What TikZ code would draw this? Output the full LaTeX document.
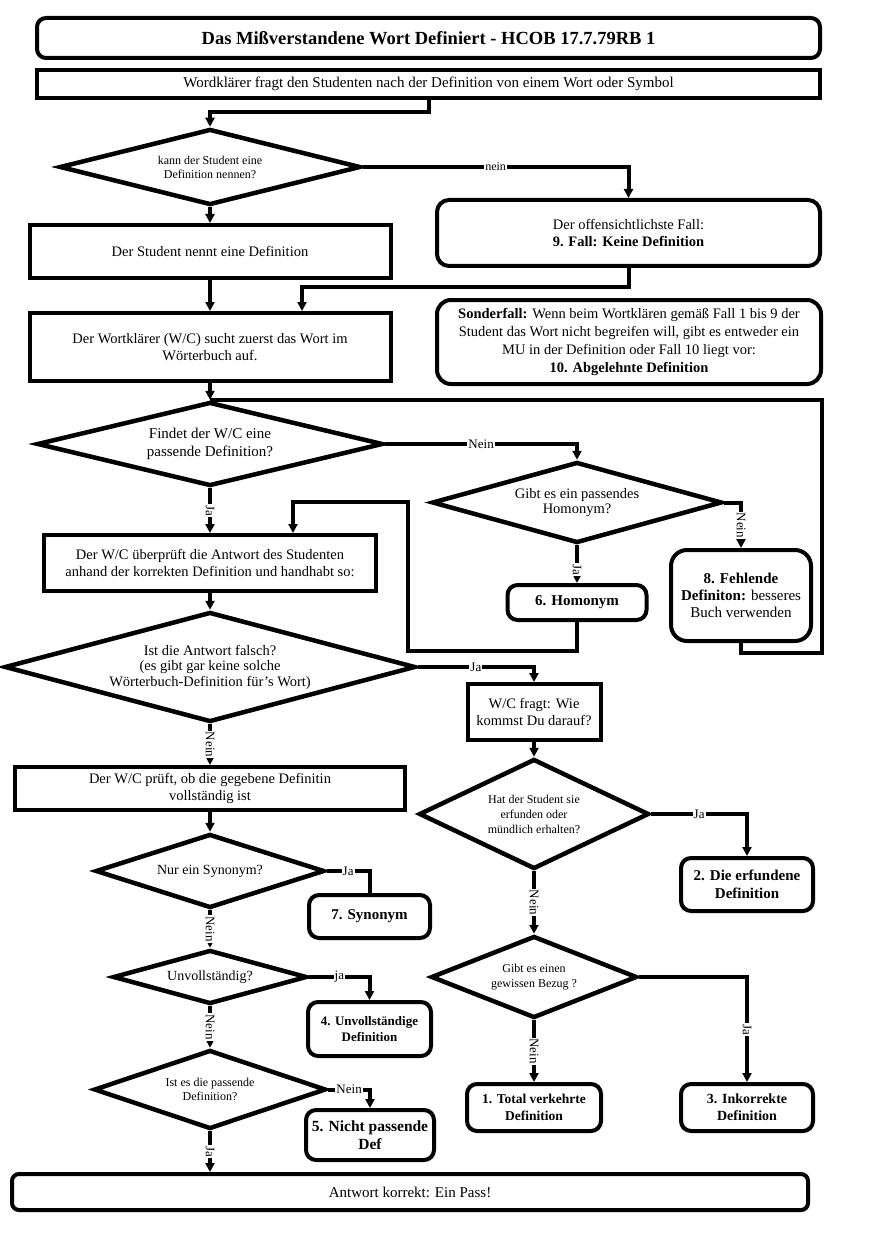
\documentclass[tikz,border=0pt]{standalone}
\usepackage{fontspec}
\setmainfont{Liberation Serif}
\usetikzlibrary{arrows.meta,shapes.geometric}

\begin{document}
\begin{tikzpicture}[x=1pt,y=-1pt,
	every node/.style={align=center,font=\fontsize{14.5}{17}\selectfont},
	procbox/.style={draw,line width=4pt,rectangle,inner sep=2pt},
	casebox/.style={procbox,rounded corners=10pt},
	decision/.style={draw,line width=4.5pt,diamond,inner sep=0pt},
	smalltext/.style={font=\fontsize{12}{14}\selectfont},
	boldtext/.style={font=\fontsize{15}{17.5}\selectfont\bfseries},
	conn/.style={line width=4pt},
	flow/.style={conn,-{Triangle[length=9pt,width=9pt]}},
	lbl/.style={fill=white,inner sep=1pt,font=\fontsize{13}{15}\selectfont},
	vlbl/.style={lbl,rotate=-90}]
	\useasboundingbox (0,0) rectangle (887,1246);

	% Kopf
	\node[procbox,rounded corners=9pt,minimum width=783pt,minimum height=40pt,font=\fontsize{18.5}{20}\selectfont\bfseries] (titel) at (428.5,38) {Das Mißverstandene Wort Definiert - HCOB 17.7.79RB 1};
	\node[procbox,minimum width=783pt,minimum height=28pt,font=\fontsize{15}{17}\selectfont] (frage) at (428.5,84) {Wordklärer fragt den Studenten nach der Definition von einem Wort oder Symbol};

	% linke Spalte
	\node[decision,smalltext,minimum width=301pt,minimum height=76pt,aspect=3.8] (kann) at (210,167) {kann der Student eine\\Definition nennen?};
	\node[procbox,minimum width=361pt,minimum height=53pt] (student) at (210,251.5) {Der Student nennt eine Definition};
	\node[procbox,minimum width=361pt,minimum height=68pt] (wortk) at (210,347) {Der Wortklärer (W/C) sucht zuerst das Wort im\\Wörterbuch auf.};
	\node[decision,minimum width=346pt,minimum height=84pt,aspect=4,font=\fontsize{15}{18}\selectfont] (findet) at (210,444) {Findet der W/C eine\\passende Definition?};
	\node[procbox,minimum width=332pt,minimum height=56pt] (pruefung) at (210,563) {Der W/C überprüft die Antwort des Studenten\\anhand der korrekten Definition und handhabt so:};
	\node[decision,minimum width=411pt,minimum height=110pt,aspect=3.6,font=\fontsize{14.5}{15.5}\selectfont] (falsch) at (210,667) {Ist die Antwort falsch?\\(es gibt gar keine solche\\Wörterbuch-Definition für's Wort)};
	\node[procbox,minimum width=390pt,minimum height=43pt] (vollst) at (210,788.5) {Der W/C prüft, ob die gegebene Definitin\\vollständig ist};
	\node[decision,minimum width=229pt,minimum height=74pt,aspect=3,font=\fontsize{14}{16}\selectfont] (nursyn) at (210,871) {Nur ein Synonym?};
	\node[decision,minimum width=194pt,minimum height=54pt,aspect=3.4,font=\fontsize{14}{16}\selectfont] (unvoll) at (210,977) {Unvollständig?};
	\node[decision,smalltext,minimum width=232pt,minimum height=79pt,aspect=2.8] (passend) at (210,1089.5) {Ist es die passende\\Definition?};
	\node[casebox,rounded corners=7pt,minimum width=796pt,minimum height=36pt,font=\fontsize{15}{17}\selectfont] (pass) at (410,1192) {Antwort korrekt: Ein Pass!};

	% rechte Spalte
	\node[casebox,rounded corners=12pt,minimum width=383pt,minimum height=66pt] (fall9) at (628.5,233) {Der offensichtlichste Fall:\\\textbf{9. Fall: Keine Definition}};
	\node[casebox,rounded corners=14pt,minimum width=384pt,minimum height=84pt,font=\fontsize{14.5}{18}\selectfont] (sonder) at (629,342) {\textbf{Sonderfall:} Wenn beim Wortklären gemäß Fall 1 bis 9 der\\Student das Wort nicht begreifen will, gibt es entweder ein\\MU in der Definition oder Fall 10 liegt vor:\\\textbf{10. Abgelehnte Definition}};
	\node[decision,minimum width=290pt,minimum height=81pt,aspect=3.5,font=\fontsize{14.5}{15.5}\selectfont] (homfrage) at (577,502.5) {Gibt es ein passendes\\Homonym?};
	\node[casebox,boldtext,minimum width=139pt,minimum height=35pt] (homonym) at (577,602.5) {6. Homonym};
	\node[casebox,rounded corners=16pt,minimum width=140pt,minimum height=91pt,font=\fontsize{15}{17}\selectfont] (fehlend) at (741,595.5) {\textbf{8. Fehlende}\\\textbf{Definiton:} besseres\\Buch verwenden};
	\node[procbox,minimum width=133pt,minimum height=56pt] (wie) at (534,712) {W/C fragt: Wie\\kommst Du darauf?};
	\node[decision,minimum width=230pt,minimum height=110pt,aspect=2.1,font=\fontsize{12}{15}\selectfont] (erfunden) at (534,814) {Hat der Student sie\\erfunden oder\\mündlich erhalten?};
	\node[casebox,boldtext,minimum width=132pt,minimum height=53pt] (erfundene) at (747,884.5) {2. Die erfundene\\Definition};
	\node[decision,minimum width=206pt,minimum height=82pt,aspect=2.5,font=\fontsize{12}{15}\selectfont] (bezug) at (534,977) {Gibt es einen\\gewissen Bezug ?};
	\node[casebox,font=\fontsize{13.5}{17}\selectfont\bfseries,minimum width=134pt,minimum height=47pt] (total) at (534,1107.5) {1. Total verkehrte\\Definition};
	\node[casebox,font=\fontsize{14}{17}\selectfont\bfseries,minimum width=132pt,minimum height=47pt] (inkorrekt) at (747,1107.5) {3. Inkorrekte\\Definition};
	\node[casebox,boldtext,minimum width=121pt,minimum height=43pt] (synonym) at (369.5,916.5) {7. Synonym};
	\node[casebox,font=\fontsize{13}{16}\selectfont\bfseries,minimum width=123pt,minimum height=54pt] (unvollst) at (369.5,1029) {4. Unvollständige\\Definition};
	\node[casebox,font=\fontsize{15.5}{18}\selectfont\bfseries,minimum width=128pt,minimum height=50pt] (nichtpass) at (370,1135) {5. Nicht passende\\Def};

	\coordinate (rueck) at (822,400);
	\coordinate (homzurueck) at (408,502);

	% Verbindungen
	\draw[flow] (frage.south) -- ++(0,12) -| (kann.north);
	\draw[flow] (kann.east) -| node[pos=0.25,lbl,font=\fontsize{12}{14}\selectfont] {nein} (fall9.north);
	\draw[flow] (kann.south) -- (student.north);
	\draw[flow] (student.south) -- (wortk.north);
	\draw[flow] (fall9.south) -- ++(0,19) -| ([xshift=92pt]wortk.north);
	\draw[flow] (wortk.south) -- (findet.north);
	\draw[conn] (fehlend.south) -- ++(0,10) -| (rueck) -- (rueck -| findet.north);
	\draw[flow] (findet.east) -| node[pos=0.25,lbl] {Nein} (homfrage.north);
	\draw[flow] (findet.south) -- node[vlbl] {Ja} (pruefung.north);
	\draw[flow] (homfrage.south) -- node[vlbl,pos=0.65] {Ja} (homonym.north);
	\draw[flow] (homfrage.east) -| node[pos=0.75,vlbl] {Nein} (fehlend.north);
	\draw[flow] (homonym.south) -- ++(0,29) -| (homzurueck) -| ([xshift=83pt]pruefung.north);
	\draw[flow] (pruefung.south) -- (falsch.north);
	\draw[flow] (falsch.east) -| node[pos=0.25,lbl] {Ja} (wie.north);
	\draw[flow] (falsch.south) -- node[vlbl] {Nein} (vollst.north);
	\draw[flow] (wie.south) -- (erfunden.north);
	\draw[flow] (erfunden.east) -| node[pos=0.25,lbl] {Ja} (erfundene.north);
	\draw[flow] (erfunden.south) -- node[vlbl] {Nein} (bezug.north);
	\draw[flow] (bezug.east) -| node[pos=0.75,vlbl] {Ja} (inkorrekt.north);
	\draw[flow] (bezug.south) -- node[vlbl] {Nein} (total.north);
	\draw[flow] (vollst.south) -- (nursyn.north);
	\draw[conn] (nursyn.east) -| node[pos=0.25,lbl] {Ja} (synonym.north);
	\draw[flow] (nursyn.south) -- node[vlbl] {Nein} (unvoll.north);
	\draw[flow] (unvoll.east) -| node[pos=0.25,lbl] {ja} (unvollst.north);
	\draw[flow] (unvoll.south) -- node[vlbl] {Nein} (passend.north);
	\draw[flow] (passend.east) -| node[pos=0.25,lbl] {Nein} (nichtpass.north);
	\draw[flow] (passend.south) -- node[vlbl] {Ja} (passend.south |- pass.north);
\end{tikzpicture}
\end{document}
